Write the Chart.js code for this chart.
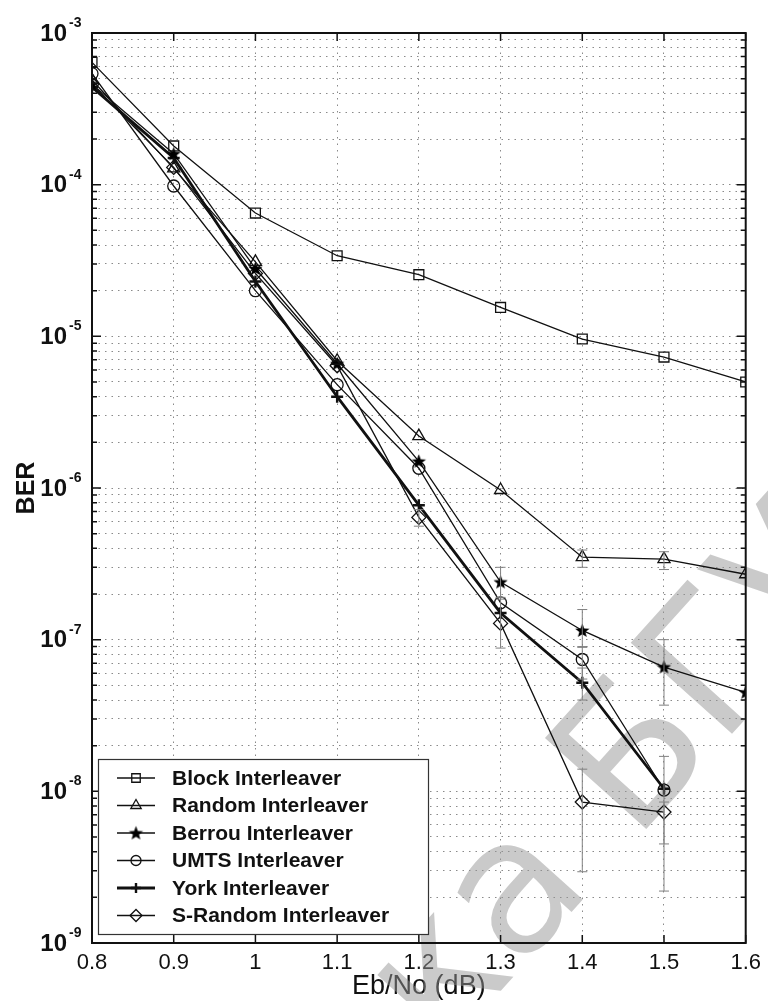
<!DOCTYPE html>
<html>
<head>
<meta charset="utf-8">
<script src="https://cdn.jsdelivr.net/npm/chart.js@4.4.1/dist/chart.umd.min.js"></script>
<style>
  html, body { margin: 0; padding: 0; background: #fff; }
</style>
</head>
<body>
<canvas id="ber" width="768" height="1001"></canvas>
<script>
// Eb/No points (dB) and BER per interleaver
const ebno = [0.8, 0.9, 1.0, 1.1, 1.2, 1.3, 1.4, 1.5, 1.6];
const blockBer   = [6.4e-4, 1.8e-4, 6.5e-5, 3.4e-5, 2.55e-5, 1.55e-5, 9.6e-6, 7.3e-6, 5.0e-6];
const randomBer  = [4.9e-4, 1.28e-4, 3.1e-5, 6.9e-6, 2.2e-6, 9.7e-7, 3.5e-7, 3.4e-7, 2.7e-7];
const berrouBer  = [4.6e-4, 1.6e-4, 2.8e-5, 6.6e-6, 1.5e-6, 2.4e-7, 1.15e-7, 6.6e-8, 4.5e-8];
const umtsBer    = [5.4e-4, 9.8e-5, 2.0e-5, 4.8e-6, 1.35e-6, 1.75e-7, 7.4e-8, 1.02e-8, null];
const yorkBer    = [4.4e-4, 1.5e-4, 2.3e-5, 4.0e-6, 7.7e-7, 1.5e-7, 5.2e-8, 1.04e-8, null];
const sRandomBer = [4.6e-4, 1.3e-4, 2.6e-5, 6.4e-6, 6.4e-7, 1.28e-7, 8.5e-9, 7.3e-9, null];

// confidence intervals (grey bars)
const errEbno = [1.2, 1.3, 1.3, 1.4, 1.4, 1.4, 1.4, 1.4, 1.5, 1.5, 1.5, 1.5];
const errLow  = [5.6e-7, 1.85e-7, 8.8e-8, 3.0e-7, 8.9e-8, 5.5e-8, 4.0e-8, 2.95e-9, 2.9e-7, 3.7e-8, 4.5e-9, 2.2e-9];
const errHigh = [7.2e-7, 3.0e-7, 1.9e-7, 3.9e-7, 1.58e-7, 9.0e-8, 6.5e-8, 1.4e-8, 3.8e-7, 1.0e-7, 1.7e-8, 8.5e-9];

const xTicks = [0.8, 0.9, 1.0, 1.1, 1.2, 1.3, 1.4, 1.5, 1.6];
const decades = [-9, -8, -7, -6, -5, -4, -3];

const FONT = '"Liberation Sans", Arial, sans-serif';

// filled five-point star marker
function starMarker() {
  const c = document.createElement('canvas');
  c.width = 17; c.height = 17;
  const g = c.getContext('2d');
  g.beginPath();
  for (let i = 0; i < 10; i++) {
    const r = i % 2 ? 3.2 : 7.5;
    const a = -Math.PI / 2 + i * Math.PI / 5;
    g.lineTo(8.5 + r * Math.cos(a), 9 + r * Math.sin(a));
  }
  g.closePath();
  g.fillStyle = '#000';
  g.fill();
  return c;
}

function line(label, data, style, radius, width) {
  return {
    label: label,
    data: data.map((v, i) => ({ x: ebno[i], y: v })),
    borderColor: '#111',
    borderWidth: width || 1.3,
    pointStyle: style,
    pointRadius: radius,
    pointBorderWidth: 1.3,
    pointBorderColor: '#111',
    pointBackgroundColor: 'rgba(0,0,0,0)',
    tension: 0,
    fill: false
  };
}

const datasets = [
  line('Block Interleaver', blockBer, 'rect', 7),
  line('Random Interleaver', randomBer, 'triangle', 7),
  line('Berrou Interleaver', berrouBer, starMarker(), 7),
  line('UMTS Interleaver', umtsBer, 'circle', 6),
  line('York Interleaver', yorkBer, 'cross', 6, 2.8),
  line('S-Random Interleaver', sRandomBer, 'rectRot', 7)
];
datasets[4].pointBorderWidth = 2.4;

const errorBars = {
  id: 'errorBars',
  afterDatasetsDraw(chart) {
    const { ctx, scales: { x, y } } = chart;
    ctx.save();
    ctx.strokeStyle = '#808080';
    ctx.lineWidth = 1;
    errEbno.forEach((e, i) => {
      const px = x.getPixelForValue(e);
      const y1 = y.getPixelForValue(errLow[i]);
      const y2 = y.getPixelForValue(errHigh[i]);
      ctx.beginPath();
      ctx.moveTo(px, y1); ctx.lineTo(px, y2);
      ctx.moveTo(px - 5, y1); ctx.lineTo(px + 5, y1);
      ctx.moveTo(px - 5, y2); ctx.lineTo(px + 5, y2);
      ctx.stroke();
    });
    ctx.restore();
  }
};

const watermark = {
  id: 'watermark',
  beforeDatasetsDraw(chart) {
    const ctx = chart.ctx;
    ctx.save();
    ctx.translate(442, 1056);
    ctx.rotate(-48 * Math.PI / 180);
    ctx.fillStyle = 'rgba(150,150,150,0.5)';
    ctx.font = '187px "DejaVu Sans", sans-serif';
    ctx.textBaseline = 'alphabetic';
    ctx.fillText('ка БГУ', 0, 0);
    ctx.restore();
  }
};

const frame = {
  id: 'frame',
  afterDraw(chart) {
    const { ctx, chartArea: a, scales: { x, y } } = chart;
    ctx.save();
    ctx.strokeStyle = '#111';
    ctx.lineWidth = 2;
    ctx.strokeRect(a.left, a.top, a.right - a.left, a.bottom - a.top);

    // inward tick marks
    ctx.lineWidth = 1.5;
    ctx.beginPath();
    y.ticks.forEach(t => {
      const py = y.getPixelForValue(t.value);
      const major = Math.abs(Math.log10(t.value) - Math.round(Math.log10(t.value))) < 1e-6;
      const len = major ? 9 : 5;
      ctx.moveTo(a.left, py); ctx.lineTo(a.left + len, py);
      ctx.moveTo(a.right, py); ctx.lineTo(a.right - len, py);
    });
    x.ticks.forEach(t => {
      const px = x.getPixelForValue(t.value);
      ctx.moveTo(px, a.top); ctx.lineTo(px, a.top + 8);
      ctx.moveTo(px, a.bottom); ctx.lineTo(px, a.bottom - 8);
    });
    ctx.stroke();

    // decade labels with raised exponent
    ctx.fillStyle = '#111';
    decades.forEach(d => {
      const py = y.getPixelForValue(Math.pow(10, d));
      ctx.font = 'bold 24px ' + FONT;
      ctx.textAlign = 'right';
      ctx.textBaseline = 'middle';
      ctx.fillText('10', 67, py + 1);
      ctx.font = 'bold 14px ' + FONT;
      ctx.textAlign = 'left';
      ctx.fillText(String(d), 69, py - 10);
    });

    // legend box
    const lx = 98, ly = 759, lw = 330, lh = 175;
    ctx.fillStyle = '#fff';
    ctx.fillRect(lx, ly, lw, lh);
    ctx.strokeStyle = '#333';
    ctx.lineWidth = 1.2;
    ctx.strokeRect(lx + 0.5, ly + 0.5, lw, lh);
    chart.data.datasets.forEach((ds, i) => {
      const ry = ly + 19 + i * 27.5;
      ctx.strokeStyle = '#111';
      ctx.lineWidth = ds.borderWidth;
      ctx.beginPath();
      ctx.moveTo(117, ry); ctx.lineTo(155, ry);
      ctx.stroke();
      ctx.lineWidth = ds.pointBorderWidth;
      ctx.fillStyle = 'rgba(0,0,0,0)';
      Chart.helpers.drawPoint(ctx, {
        pointStyle: ds.pointStyle,
        radius: ds.pointRadius - 1,
        rotation: 0,
        borderWidth: ds.pointBorderWidth
      }, 136, ry);
      ctx.fillStyle = '#111';
      ctx.font = 'bold 21px ' + FONT;
      ctx.textAlign = 'left';
      ctx.textBaseline = 'middle';
      ctx.fillText(ds.label, 172, ry + 1);
    });
    ctx.restore();
  }
};

new Chart(document.getElementById('ber'), {
  type: 'line',
  data: { datasets: datasets },
  options: {
    responsive: false,
    animation: false,
    layout: { padding: { top: 33, right: 22, left: 0, bottom: 0 } },
    plugins: { legend: { display: false }, tooltip: { enabled: false } },
    scales: {
      x: {
        type: 'linear',
        min: 0.8,
        max: 1.6,
        afterBuildTicks: s => { s.ticks = xTicks.map(v => ({ value: v })); },
        afterFit: s => { s.height = 58; },
        ticks: {
          color: '#111',
          padding: 7,
          font: { family: FONT, size: 22 },
          callback: v => String(Number(v.toFixed(1)))
        },
        grid: { color: '#8a8a8a', lineWidth: 1, drawTicks: false },
        border: { display: false, dash: [1.5, 5] },
        title: {
          display: true,
          text: 'Eb/No (dB)',
          color: '#111',
          font: { family: FONT, size: 27 },
          padding: { top: 0, bottom: -2 }
        }
      },
      y: {
        type: 'logarithmic',
        min: 1e-9,
        max: 1e-3,
        afterBuildTicks: s => {
          const t = [];
          decades.slice(0, -1).forEach(d => {
            for (let m = 1; m < 10; m++) t.push({ value: m * Math.pow(10, d) });
          });
          t.push({ value: 1e-3 });
          s.ticks = t;
        },
        afterFit: s => { s.width = 92; },
        ticks: { display: false },
        grid: { color: '#8a8a8a', lineWidth: 1, drawTicks: false },
        border: { display: false, dash: [1.5, 5] },
        title: {
          display: true,
          text: 'BER',
          color: '#111',
          font: { family: FONT, size: 25, weight: 'bold' },
          padding: { top: 12, bottom: 0 }
        }
      }
    }
  },
  plugins: [watermark, errorBars, frame]
});
</script>
</body>
</html>
